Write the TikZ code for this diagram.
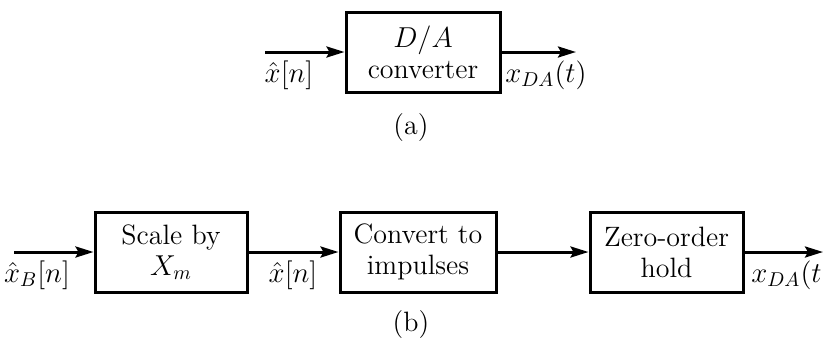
\documentclass[tikz,border=0pt]{standalone}
\usepackage{fontspec}
\usetikzlibrary{arrows.meta,positioning}

\tikzset{
  blk/.style={draw,line width=1.5pt,minimum height=40pt,inner sep=0pt,align=center,font=\fontsize{14}{15.5}\selectfont},
  sig/.style={line width=1.5pt,-{Stealth[length=9pt,width=5.5pt,inset=1.5pt]}},
  lbl/.style={font=\fontsize{14}{15.5}\selectfont,inner sep=0pt}
}

\begin{document}
\begin{tikzpicture}[x=0.5pt,y=-0.5pt]
			\useasboundingbox (0,0) rectangle (823,349);

			% ---------------- (a) ----------------
			\coordinate (Ain) at (265,52);
			\coordinate (Aout) at (576,52);
			\node[blk,minimum width=77pt] (DA) at (423,52) {$D/A$\\converter};
			\draw[sig] (Ain) -- (DA);
			\draw[sig] (DA) -- (Aout);
			\node[lbl] (ax) at (289,75) {$\hat{x}[n]$};
			\node[lbl] (axda) at (546,75) {$x_{DA}(t)$};
			\node[lbl] (capa) at (411,128) {(a)};

			% ---------------- (b) ----------------
			\coordinate (Bin) at (14,252);
			\coordinate (Bout) at (823,252);
			\node[blk,minimum width=76pt] (B1) at (171,252) {Scale by\\$X_m$};
			\node[blk,minimum width=78pt] (B2) at (418,252) {Convert to\\impulses};
			\node[blk,minimum width=76.5pt] (B3) at (666.5,252) {Zero-order\\hold};
			\draw[sig] (Bin) -- (B1);
			\draw[sig] (B1) -- (B2);
			\draw[sig] (B2) -- (B3);
			\draw[sig] (B3) -- (Bout);
			\node[lbl] (bxb) at (37,275) {$\hat{x}_B[n]$};
			\node[lbl] (bx) at (293,275) {$\hat{x}[n]$};
			\node[lbl] (bxda) at (792,275) {$x_{DA}(t)$};
			\node[lbl] (capb) at (411,325) {(b)};
		\end{tikzpicture}
\end{document}
